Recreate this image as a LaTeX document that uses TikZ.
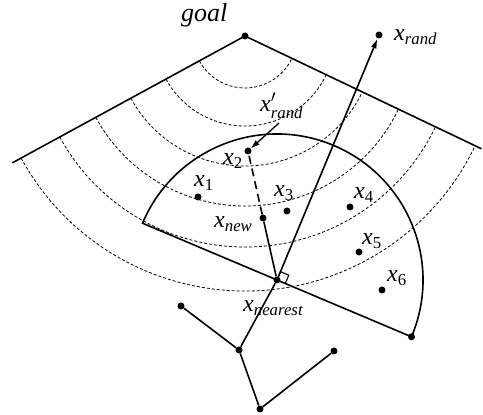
\documentclass[tikz,border=0pt]{standalone}
\usepackage{amsmath}
\usepackage{fontspec}
\setmainfont{Liberation Serif}
\usetikzlibrary{arrows.meta, calc}
\tikzset{
  pt/.style  ={circle, fill=black, inner sep=0pt, minimum size=7pt},
  lbl/.style ={anchor=base west, inner sep=0pt, font=\fontsize{24}{28}\selectfont},
  seg/.style ={line width=1.6pt},
  fl/.style  ={seg, -{Latex[length=10pt, width=6pt]}},
  ring/.style={dash pattern=on 3pt off 2pt, line width=0.8pt},
}
\newcommand{\xl}[1]{$\textit{x}_{\textit{#1}}$}
\newcommand{\xn}[1]{$\textit{x}_{\text{#1}}$}

\begin{document}
\begin{tikzpicture}[x=1pt, y=1pt]
\useasboundingbox (0,0) rectangle (483,415);

% goal cone
\node[pt] (goal) at (245,379) {};
\coordinate (coneL) at ($(goal)+(208.6:265)$);
\coordinate (coneR) at ($(goal)+(334.5:262)$);
\draw[seg] (coneL) -- (goal.center) -- (coneR);
\node[lbl, font=\fontsize{26}{30}\selectfont] (goallbl) at (181,393) {\textit{goal}};

% distance rings around the goal
\foreach \r in {52,90,130,170,211,255}
  \draw[ring] ($(goal)+(208.6:\r)$) arc[start angle=208.6, end angle=334.5, radius=\r];

% half disc around x_nearest
\node[pt] (near) at (277,135) {};
\coordinate (diaL) at ($(near)+(157.1:146)$);
\node[pt] (diaR) at ($(near)+(-22.9:146)$) {};
\draw[seg] (diaR.center) -- (diaL) arc[start angle=157.1, end angle=-22.9, radius=146];
\draw[line width=1.1pt] (near.center) -- ++(67.1:9) -- ++(-22.9:9) -- ++(247.1:9);

% samples
\node[pt] (xrand) at (379,380) {};
\node[pt] (xnew) at (263,197) {};
\node[pt] (x1) at (198,218) {};
\node[pt] (x2) at (248,264) {};
\node[pt] (x3) at (287,204) {};
\node[pt] (x4) at (350,208) {};
\node[pt] (x5) at (359,163) {};
\node[pt] (x6) at (382,125) {};
\coordinate (tail) at (279,292);

\draw[fl] (near) -- (xrand);
\draw[seg] (near) -- (xnew);
\draw[seg, dash pattern=on 8pt off 5pt] (xnew) -- (x2);
\draw[line width=1.3pt, -{Latex[length=9pt, width=6pt]}] (tail) -- (x2);

% tree
\node[pt] (a) at (239,65) {};
\node[pt] (b) at (181,109) {};
\node[pt] (c) at (260,6) {};
\node[pt] (d) at (334,64) {};
\draw[seg] (near) -- (a) -- (c) -- (d);
\draw[seg] (a) -- (b);

% labels
\node[lbl] (lrand) at (394,374) {\xl{rand}};
\node[lbl] (lrandp) at (260,303) {$\textit{x}'_{\textit{rand}}$};
\node[lbl] (l1) at (194,228) {\xn{1}};
\node[lbl] (l2) at (223,250) {\xn{2}};
\node[lbl] (l3) at (274,218) {\xn{3}};
\node[lbl] (l4) at (354,216) {\xn{4}};
\node[lbl] (l5) at (362,170) {\xn{5}};
\node[lbl] (l6) at (387,133) {\xn{6}};
\node[lbl] (lnew) at (214,187) {\xl{new}};
\node[lbl] (lnear) at (243,103) {\xl{nearest}};
\end{tikzpicture}
\end{document}
